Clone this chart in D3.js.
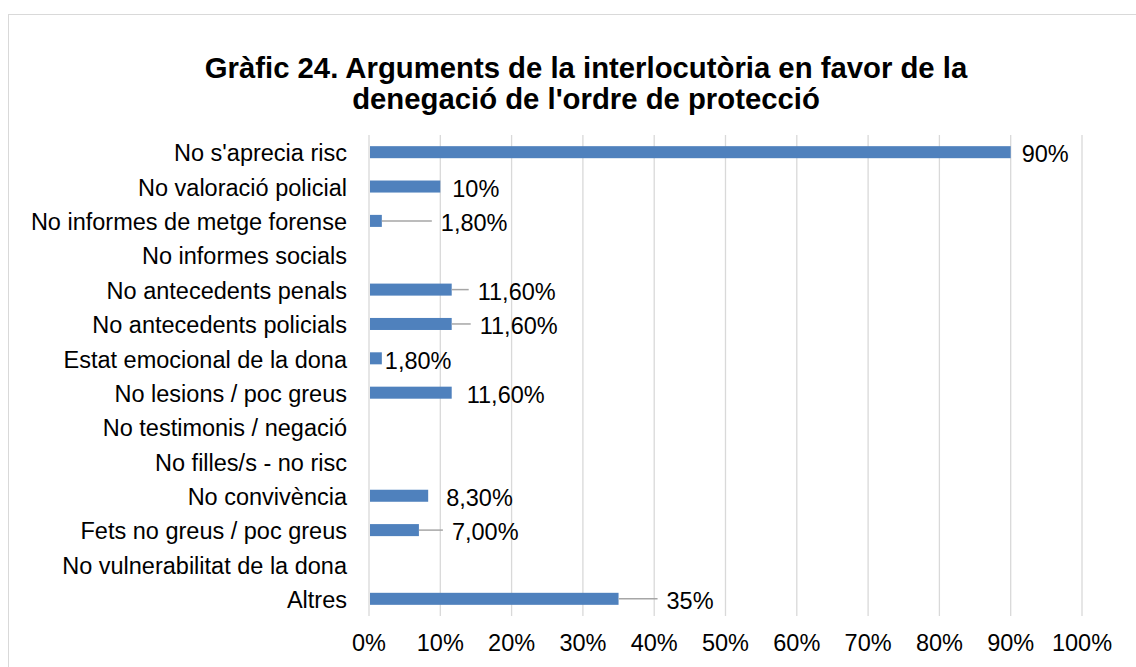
<!DOCTYPE html>
<html>
<head>
<meta charset="utf-8">
<script src="https://cdn.jsdelivr.net/npm/d3@7"></script>
<style>
  body { margin: 0; background: #fff; }
  text { font-family: "Liberation Sans", Arial, sans-serif; fill: #000; }
</style>
</head>
<body>
<div id="chart"></div>
<script>
const titleLines = ["Gràfic 24. Arguments de la interlocutòria en favor de la",
                    "denegació de l'ordre de protecció"];

const categories = ["No s'aprecia risc", "No valoració policial", "No informes de metge forense",
  "No informes socials", "No antecedents penals", "No antecedents policials",
  "Estat emocional de la dona", "No lesions / poc greus", "No testimonis / negació",
  "No filles/s - no risc", "No convivència", "Fets no greus / poc greus",
  "No vulnerabilitat de la dona", "Altres"];

const values = [0.90, 0.10, 0.018, null, 0.116, 0.116, 0.018, 0.116, null, null, 0.083, 0.07, null, 0.35];

const valueLabels = ["90%", "10%", "1,80%", "", "11,60%", "11,60%", "1,80%", "11,60%", "", "",
  "8,30%", "7,00%", "", "35%"];

const xTicks = [0, 0.1, 0.2, 0.3, 0.4, 0.5, 0.6, 0.7, 0.8, 0.9, 1.0];

// how far each data label was dragged from its bar end (px), as in the original
const labelNudge = [11, 12, 59, 0, 26, 28, 3, 15, 0, 0, 18, 33, 0, 48];

const width = 1136, height = 667;
const plot = {left: 369, right: 1082, top: 135, bottom: 616};
const fontSize = 23.5;

const svg = d3.select("#chart").append("svg")
    .attr("width", width)
    .attr("height", height);

// chart frame
svg.append("rect")
    .attr("x", 8.5).attr("y", 14.5)
    .attr("width", 1200).attr("height", 700)
    .attr("fill", "none")
    .attr("stroke", "#d9d9d9");

const x = d3.scaleLinear().domain([0, 1]).range([plot.left, plot.right]);
const y = d3.scaleBand().domain(categories)
    .range([plot.top, plot.bottom])
    .paddingInner(0.65).paddingOuter(0.325);

// title
svg.append("text")
    .attr("x", 586).attr("y", 78)
    .attr("text-anchor", "middle")
    .attr("font-size", 29.3).attr("font-weight", "bold")
  .selectAll("tspan")
  .data(titleLines)
  .join("tspan")
    .attr("x", 586)
    .attr("dy", (d, i) => i ? 31 : 0)
    .text(d => d);

// gridlines
svg.append("g")
  .selectAll("line")
  .data(xTicks)
  .join("line")
    .attr("x1", d => x(d)).attr("x2", d => x(d))
    .attr("y1", plot.top).attr("y2", plot.bottom)
    .attr("stroke", "#d9d9d9")
    .attr("stroke-width", 1.3);

// x tick labels
svg.append("g")
  .selectAll("text")
  .data(xTicks)
  .join("text")
    .attr("x", d => x(d))
    .attr("y", 643)
    .attr("dy", "0.35em")
    .attr("text-anchor", "middle")
    .attr("font-size", fontSize)
    .text(d => d3.format(".0%")(d));

// category labels
svg.append("g")
  .selectAll("text")
  .data(categories)
  .join("text")
    .attr("x", plot.left - 22)
    .attr("y", d => y(d) + y.bandwidth() / 2 + 1)
    .attr("dy", "0.35em")
    .attr("text-anchor", "end")
    .attr("font-size", fontSize)
    .text(d => d);

const rows = categories.map((c, i) => ({cat: c, v: values[i], label: valueLabels[i], nudge: labelNudge[i]}))
  .filter(d => d.v != null);

// bars
svg.append("g")
  .selectAll("rect")
  .data(rows)
  .join("rect")
    .attr("x", x(0) + 1)
    .attr("y", d => y(d.cat))
    .attr("width", d => x(d.v) - x(0) - 1)
    .attr("height", y.bandwidth())
    .attr("fill", "#4f81bd");

// leader lines for dragged labels
svg.append("g")
  .selectAll("line")
  .data(rows.filter(d => d.nudge > 20))
  .join("line")
    .attr("x1", d => x(d.v))
    .attr("x2", d => x(d.v) + d.nudge - 9)
    .attr("y1", d => y(d.cat) + y.bandwidth() / 2)
    .attr("y2", d => y(d.cat) + y.bandwidth() / 2)
    .attr("stroke", "#a6a6a6")
    .attr("stroke-width", 1.5);

// value labels
svg.append("g")
  .selectAll("text")
  .data(rows)
  .join("text")
    .attr("x", d => x(d.v) + d.nudge)
    .attr("y", d => y(d.cat) + y.bandwidth() / 2 + 2)
    .attr("dy", "0.35em")
    .attr("font-size", fontSize)
    .text(d => d.label);
</script>
</body>
</html>
